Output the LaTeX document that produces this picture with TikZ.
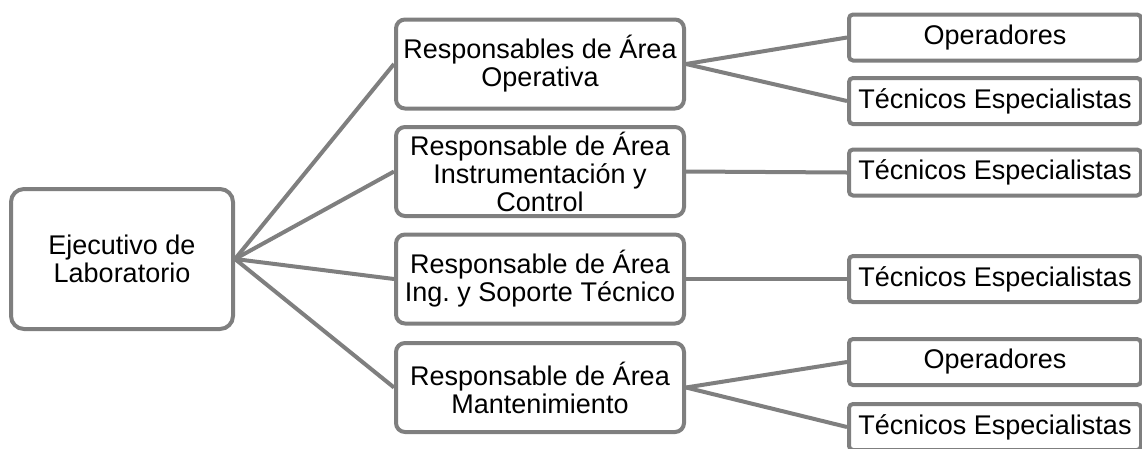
\documentclass[tikz,border=0pt]{standalone}
\usepackage{fontspec}
\setmainfont{Liberation Sans}
\frenchspacing
\definecolor{boxgray}{HTML}{7F7F7F}
\begin{document}
\begin{tikzpicture}[x=1pt,y=-1pt,
  base/.style={draw=boxgray,line width=4pt,fill=white,align=center,inner sep=0pt,text=black},
  rootbox/.style={base,rounded corners=13pt,minimum width=222pt,minimum height=140pt,font=\fontsize{27}{28}\selectfont},
  midbox/.style={base,rounded corners=9pt,minimum width=288pt,minimum height=89pt,font=\fontsize{27}{28}\selectfont},
  leafbox/.style={base,rounded corners=4pt,minimum width=292pt,minimum height=46pt,font=\fontsize{27}{28}\selectfont},
  link/.style={draw=boxgray,line width=4pt}]
\useasboundingbox (0,0) rectangle (1142,448);
\node[rootbox] (root) at (122,259) {Ejecutivo de\\Laboratorio};
\node[midbox] (m1) at (540,64) {Responsables de Área\\Operativa};
\node[midbox] (m2) at (540,171.5) {Responsable de Área\\Instrumentación y\\Control};
\node[midbox] (m3) at (540,279) {Responsable de Área\\Ing.\ y Soporte Técnico};
\node[midbox] (m4) at (540,387.5) {Responsable de Área\\Mantenimiento};
\node[leafbox] (l1) at (995,37.5) {Operadores};
\node[leafbox] (l2) at (995,101) {Técnicos Especialistas};
\node[leafbox] (l3) at (995,172.5) {Técnicos Especialistas};
\node[leafbox] (l4) at (995,279) {Técnicos Especialistas};
\node[leafbox] (l5) at (995,362) {Operadores};
\node[leafbox] (l6) at (995,427) {Técnicos Especialistas};
\draw[link] (root.east) -- (m1.west);
\draw[link] (root.east) -- (m2.west);
\draw[link] (root.east) -- (m3.west);
\draw[link] (root.east) -- (m4.west);
\draw[link] (m1.east) -- (l1.west);
\draw[link] (m1.east) -- (l2.west);
\draw[link] (m2.east) -- (l3.west);
\draw[link] (m3.east) -- (l4.west);
\draw[link] (m4.east) -- (l5.west);
\draw[link] (m4.east) -- (l6.west);
\end{tikzpicture}
\end{document}
